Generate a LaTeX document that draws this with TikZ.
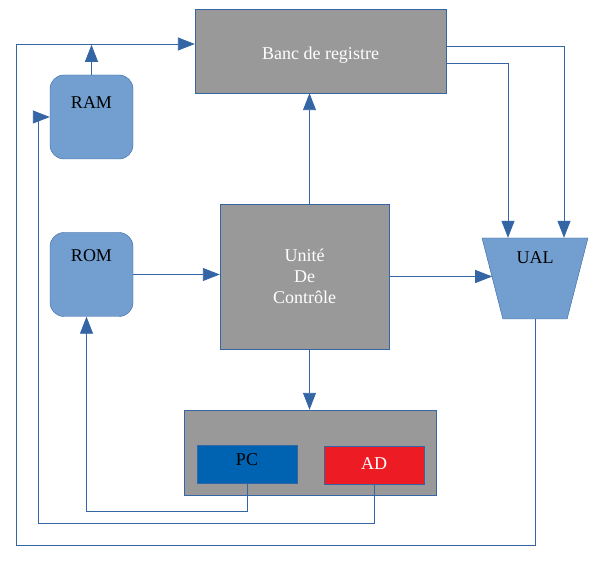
\documentclass[tikz,border=0pt]{standalone}
\usepackage{fontspec}
\setmainfont{Liberation Serif}
\usetikzlibrary{arrows.meta,shapes.geometric}
\definecolor{lineblue}{HTML}{3465A4}
\definecolor{memblue}{HTML}{729FCF}
\definecolor{boxgray}{HTML}{999999}
\definecolor{pcblue}{HTML}{0063B1}
\definecolor{adred}{HTML}{ED1C24}

\begin{document}
\begin{tikzpicture}[x=1pt, y=-1pt, font=\fontsize{18}{21}\selectfont,
	unit/.style={draw=lineblue, fill=boxgray, text=white, inner sep=0pt},
	mem/.style={draw=lineblue, fill=memblue, rounded corners=14pt, minimum width=83pt, minimum height=84pt},
	reg/.style={draw=lineblue, minimum width=100pt, minimum height=38pt, inner sep=0pt},
	link/.style={draw=lineblue, line width=0.9pt, -{Triangle[length=17pt,width=13pt]}}]
	\useasboundingbox (0,0) rectangle (597,561);

	% blocks
	\node[unit, minimum width=251pt, minimum height=84pt, text height=21pt, text depth=4pt] (banc) at (320.5,51) {Banc de registre};
	\node[mem, label={[anchor=center, yshift=-28pt]north:RAM}] (ram) at (91.5,117) {};
	\node[mem, label={[anchor=center, yshift=-23pt]north:ROM}] (rom) at (91.5,274.5) {};
	\node[unit, minimum width=169pt, minimum height=145pt, align=center] (unite) at (304.5,276.5) {Unité\\De\\Contrôle};
	\node[trapezium, trapezium stretches, trapezium left angle=108, trapezium right angle=108,
		minimum width=106pt, minimum height=81pt, draw=lineblue, fill=memblue,
		label={[anchor=center, yshift=-20pt]north:UAL}] (ual) at (535,278.5) {};
	\node[unit, minimum width=252pt, minimum height=85pt] (regs) at (310,452.5) {};
	\node[reg, fill=pcblue, text height=12pt, text depth=9pt] (pc) at (247,464) {PC};
	\node[reg, fill=adred, text=white, text height=12pt, text depth=4pt] (ad) at (374,465) {AD};

	% connexions
	\draw[link] (ram.north) -- ++(0,-30);
	\draw[link] (rom.east) -- (rom.east -| unite.west);
	\draw[link] ([xshift=5pt]unite.north) -- ([xshift=5pt]unite.north |- banc.south);
	\draw[link] ([xshift=5pt]unite.south) -- ([xshift=5pt]unite.south |- regs.north);
	\draw[link] (unite.east) -- (unite.east -| ual.west);
	\draw[link] ([yshift=5pt]banc.east) -| ([xshift=29pt]ual.north);
	\draw[link] ([yshift=-12pt]banc.east) -| ([xshift=-27pt]ual.north);
	\draw[link] (pc.south) -- ++(0,28) -| ([xshift=-5pt]rom.south);
	\draw[link] (ad.south) -- ++(0,39) -| ([xshift=-11pt]ram.west) -- (ram.west);
	\draw[link] (ual.south) -- ++(0,226) -| ([xshift=-178pt,yshift=7pt]banc.west) -- ([yshift=7pt]banc.west);
\end{tikzpicture}
\end{document}
